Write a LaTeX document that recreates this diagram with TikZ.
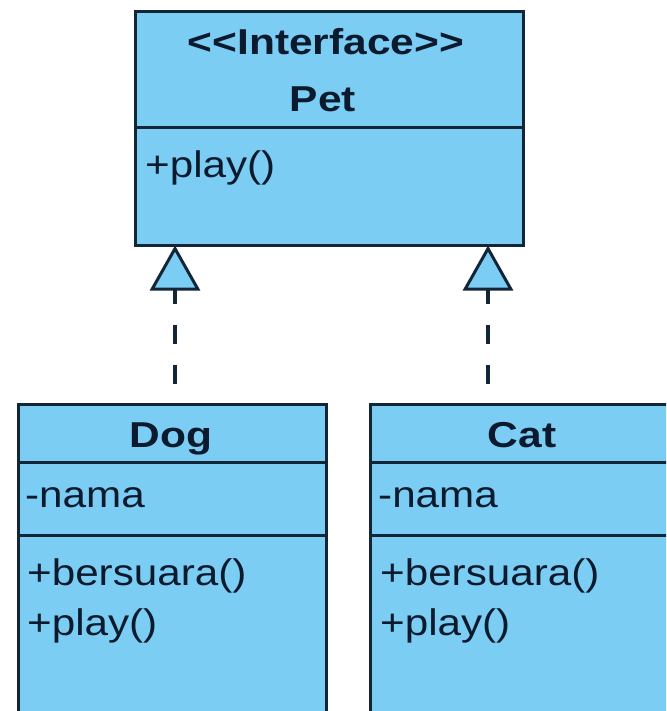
\documentclass[tikz,border=0pt]{standalone}
\usepackage{fontspec}
\setmainfont{Liberation Sans}
\usepackage{graphicx}
\usetikzlibrary{arrows.meta}
\definecolor{umlfill}{RGB}{124,205,244}
\definecolor{umlline}{RGB}{18,38,56}
\definecolor{umltext}{RGB}{12,26,46}
\newcommand\umltitle[1]{\fontsize{36}{42}\selectfont\bfseries\scalebox{1.18}[1]{#1}}
\newcommand\umlmember[1]{\fontsize{37}{44}\selectfont\scalebox{1.14}[1]{#1}}
\begin{document}
\begin{tikzpicture}[x=1pt,y=-1pt,
 classbox/.style={draw=umlline, fill=umlfill, line width=3pt, inner sep=0pt, outer sep=0pt},
 divider/.style={draw=umlline, line width=3pt},
 title/.style={text=umltext, inner sep=0pt, anchor=base},
 member/.style={text=umltext, inner sep=0pt, anchor=base west},
 realize/.style={draw=umlline, line width=3.5pt, dash pattern=on 19pt off 21pt, dash phase=19pt,
   -{Triangle[length=45pt,width=50pt,fill=umlfill,line width=3pt]}}
]
\clip (0,0) rectangle (666,711);
\fill[white] (0,0) rectangle (666,711);
% Pet interface
\node[classbox, minimum width=388pt, minimum height=234pt] (pet) at (329.5,128.5) {};
\draw[divider] (pet.west |- 0,128) -- (pet.east |- 0,128);
\node[title] (petstereo) at (326,55) {\umltitle{<{}<Interface>{}>}};
\node[title] (petname) at (323,112) {\umltitle{Pet}};
\node[member] (petplay) at (145,178) {\umlmember{+play()}};
% Dog class
\node[classbox, minimum width=308pt, minimum height=375.5pt] (dog) at (172.5,592.25) {};
\draw[divider] (dog.west |- 0,462) -- (dog.east |- 0,462);
\draw[divider] (dog.west |- 0,535) -- (dog.east |- 0,535);
\node[title] (dogname) at (171,447) {\umltitle{Dog}};
\node[member] (dognama) at (25,507) {\umlmember{-nama}};
\node[member] (dogsuara) at (27,585) {\umlmember{+bersuara()}};
\node[member] (dogplay) at (27,635) {\umlmember{+play()}};
% Cat class
\node[classbox, minimum width=308pt, minimum height=375.5pt] (cat) at (524.5,592.25) {};
\draw[divider] (cat.west |- 0,462) -- (cat.east |- 0,462);
\draw[divider] (cat.west |- 0,535) -- (cat.east |- 0,535);
\node[title] (catname) at (522,447) {\umltitle{Cat}};
\node[member] (catnama) at (378,507) {\umlmember{-nama}};
\node[member] (catsuara) at (380,585) {\umlmember{+bersuara()}};
\node[member] (catplay) at (380,635) {\umlmember{+play()}};
% realization connectors
\coordinate (da) at ([xshift=39.5pt]pet.south west);
\coordinate (ca) at ([xshift=-35.5pt]pet.south east);
\draw[realize] (dog.north -| da) -- (da);
\draw[realize] (cat.north -| ca) -- (ca);
\end{tikzpicture}
\end{document}
